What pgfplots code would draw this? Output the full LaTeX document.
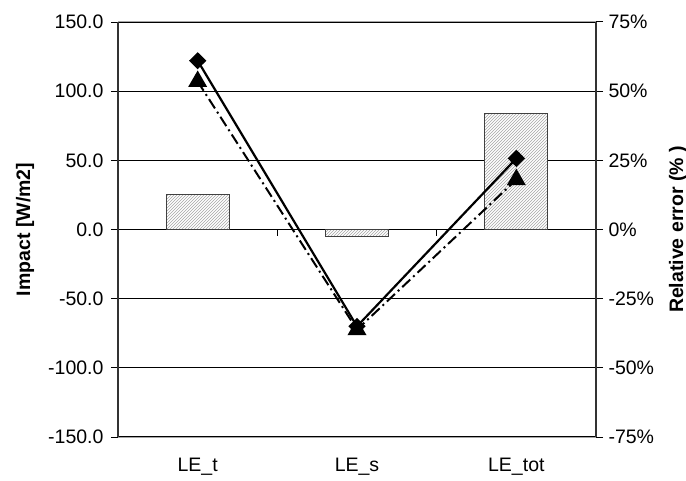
\documentclass[border=0pt]{standalone}
\usepackage{pgfplots}
\pgfplotsset{compat=1.18}
\usepackage{fontspec}
\setmainfont{Liberation Sans}
\usetikzlibrary{patterns}
\begin{document}
\begin{tikzpicture}
\pgfplotsset{
  every axis/.append style={scale only axis, width=478pt, height=415pt, xmin=-0.5, xmax=2.5,
    /pgf/number format/assume math mode=true,
    tick align=outside, major tick length=7pt, tick style={black, line width=1pt},
    ticklabel style={font=\fontsize{19.5}{22}\selectfont}},
}
\begin{axis}[
  name=ax1,
  axis y line*=left, axis x line*=bottom,
  x axis line style={gray!70, line width=1pt},
  y axis line style={black!80, line width=1.5pt},
  xtick={0,1,2}, xticklabels={LE\_t, LE\_s, LE\_tot},
  x tick style={draw=none},
  xticklabel style={yshift=-11pt},
  ymin=-150, ymax=150, ytick={-150,-100,...,150},
  yticklabel style={xshift=-4pt, /pgf/number format/.cd, fixed, fixed zerofill, precision=1},
  ymajorgrids, grid style={black, line width=1.3pt},
  ybar, bar width=63pt,
]
\addplot[draw=black!75, line width=1pt, fill=white, postaction={pattern=north east lines, pattern color=gray!70}]
  coordinates {(0,25.3) (1,-5) (2,84)};
\end{axis}
\begin{axis}[
  name=ax2,
  axis y line*=right, axis x line=none,
  y axis line style={black!80, line width=1.5pt},
  ymin=-75, ymax=75, ytick={-75,-50,...,75},
  yticklabel style={xshift=2pt},
  yticklabel={\pgfmathprintnumber[assume math mode=true]{\tick}\%},
]
\draw[gray!70, line width=1pt] (rel axis cs:0,1) -- (rel axis cs:1,1);
\draw[gray!70, line width=1pt] (rel axis cs:0,0) -- (rel axis cs:1,0);
\draw[black, line width=1pt] (axis cs:0.5,0) -- (axis cs:0.5,-2.5);
\draw[black, line width=1pt] (axis cs:1.5,0) -- (axis cs:1.5,-2.5);
\addplot[black, line width=2.2pt, mark=diamond*, mark size=7pt, mark options={solid, xscale=1.35}]
  coordinates {(0,61) (1,-35) (2,25.7)};
\addplot[black, line width=2pt, dash pattern=on 11pt off 4pt on 2pt off 4pt, mark=triangle*, mark size=9pt, mark options={solid}]
  coordinates {(0,53.5) (1,-36.2) (2,18)};
\end{axis}
\node[rotate=90, font=\fontsize{19.5}{22}\selectfont\bfseries] at ([xshift=-93pt]ax1.west) {Impact [W/m2]};
\node[rotate=90, font=\fontsize{19.5}{22}\selectfont\bfseries] at ([xshift=82pt]ax1.east) {Relative error (\% )};
\pgfresetboundingbox
\path ([xshift=-118pt,yshift=-43pt]ax1.south west) rectangle ([xshift=90pt,yshift=22pt]ax1.north east);
\end{tikzpicture}
\end{document}
